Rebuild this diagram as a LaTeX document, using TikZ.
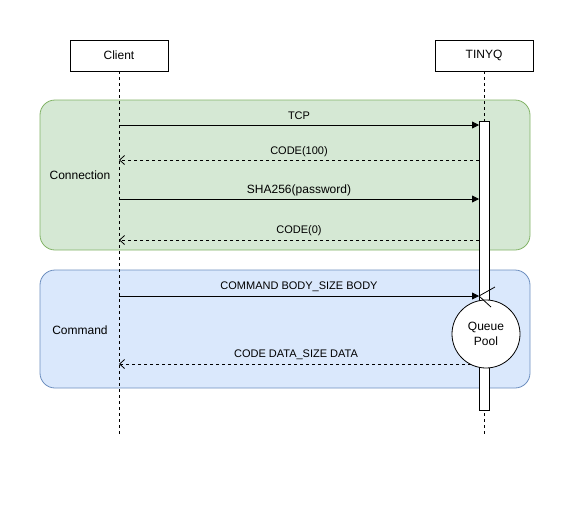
\documentclass[tikz,border=0pt]{standalone}
\usepackage{fontspec}
\setmainfont{Liberation Sans}
\usetikzlibrary{arrows.meta}
\definecolor{greenfill}{HTML}{D5E8D4}
\definecolor{greenline}{HTML}{82B366}
\definecolor{bluefill}{HTML}{DAE8FC}
\definecolor{blueline}{HTML}{6C8EBF}
\begin{document}
\begin{tikzpicture}[x=1pt,y=-1pt,
  actor/.style={draw=black, fill=white, line width=0.8pt, minimum width=98pt, minimum height=31pt, inner sep=0pt, font=\fontsize{12}{14}\selectfont},
  life/.style={draw=black, line width=0.8pt, dash pattern=on 3pt off 3pt},
  msg/.style={draw=black, line width=0.8pt, -{Triangle[length=7pt,width=7pt]}},
  ret/.style={draw=black, line width=0.8pt, dash pattern=on 3pt off 3pt, -{Straight Barb[length=5pt,width=9pt]}},
  lbl/.style={font=\fontsize{11}{13}\selectfont, inner sep=0pt},
  biglbl/.style={font=\fontsize{12}{14}\selectfont, inner sep=0pt},
  region/.style={rounded corners=15pt, line width=0.8pt, minimum width=490pt, inner sep=0pt},
]
\useasboundingbox (0,0) rectangle (574,531);
% regions
\node[region, fill=greenfill, draw=greenline, minimum height=150pt] (conn) at (285,175) {};
\node[region, fill=bluefill, draw=blueline, minimum height=118pt] (cmd) at (285,329) {};
\node[biglbl] (connlbl) at (80,175) {Connection};
\node[biglbl] (cmdlbl) at (80,330) {Command};
% actors
\node[actor] (client) at (119,55.5) {Client};
\node[actor] (tinyq) at (484,55.5) {TINYQ};
\coordinate (cend) at (119,437);
\coordinate (tend) at (484,437);
\draw[life] (client.south) -- (cend);
\draw[life] (tinyq.south) -- (tend);
% activation bar
\node[draw=black, fill=white, line width=0.8pt, minimum width=10pt, minimum height=289pt, inner sep=0pt] (bar) at (484,265.5) {};
% messages
\coordinate (c1) at (119,125); \coordinate (t1) at (479,125);
\coordinate (c2) at (119,160); \coordinate (t2) at (479,160);
\coordinate (c3) at (119,199); \coordinate (t3) at (479,199);
\coordinate (c4) at (119,240); \coordinate (t4) at (479,240);
\coordinate (c5) at (119,296); \coordinate (t5) at (479,296);
\coordinate (c6) at (119,364); \coordinate (t6) at (471,364);
\draw[msg] (c1) -- (t1);
\draw[ret] (t2) -- (c2);
\draw[msg] (c3) -- (t3);
\draw[ret] (t4) -- (c4);
% queue pool
\node[circle, draw=black, fill=white, line width=0.8pt, minimum size=68pt, inner sep=0pt, align=center, font=\fontsize{12}{15}\selectfont] (pool) at (486,334) {Queue\\Pool};
\draw[msg] (c5) -- (t5);
\coordinate (x1) at (495,287);
\coordinate (x2) at (491,307);
\draw[line width=0.8pt] (t5) -- (x1);
\draw[line width=0.8pt] (t5) -- (x2);
\draw[ret] (t6) -- (c6);
% labels
\node[lbl] (l1) at (299,116) {TCP};
\node[lbl] (l2) at (299,152) {CODE(100)};
\node[biglbl] (l3) at (299,190) {SHA256(password)};
\node[lbl] (l4) at (299,231) {CODE(0)};
\node[lbl] (l5) at (299,287) {COMMAND BODY\_SIZE BODY};
\node[lbl] (l6) at (296,355) {CODE DATA\_SIZE DATA};
\end{tikzpicture}
\end{document}
